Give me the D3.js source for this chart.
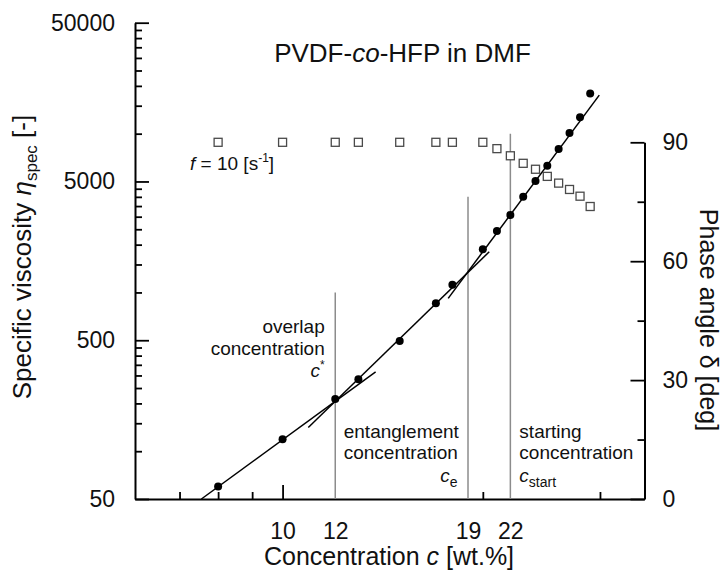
<!DOCTYPE html>
<html>
<head>
<meta charset="utf-8">
<script src="https://cdn.jsdelivr.net/npm/d3@7"></script>
<style>
  body { margin: 0; background: #fff; }
  svg { display: block; font-family: "Liberation Sans", Arial, sans-serif; }
</style>
</head>
<body>
<svg id="chart"></svg>
<script>
// concentration c [wt.%] of each measured solution
const concentration = [8, 10, 12, 13, 15, 17, 18, 20, 21, 22, 23, 24, 25, 26, 27, 28, 29];
// specific viscosity (filled circles, left log axis)
const etaSpec = [60, 119, 213, 284, 494, 854, 1120, 1870, 2440, 3070, 4010, 5030, 6280, 8000, 10100, 12700, 17900];
// phase angle at f = 10 1/s (open squares, right axis)
const phaseAngle = [90, 90, 90, 90, 90, 90, 90, 90, 88.4, 86.6, 84.7, 83.2, 81.4, 79.7, 78.1, 76.4, 73.8];

// straight fit lines on log-log axes, read as end points
const fitDilute = { c: [7.55, 13.8], eta: [50, 316] };
const fitSemi = { c: [10.93, 20.45], eta: [141, 1804] };
const fitEntangled = { c: [17.74, 29.93], eta: [918, 17500] };

// characteristic concentrations (grey lines) and how high the lines reach
const markerConc = [12, 19, 22];
const markerTop = [1000, 4000, 10000];

// ticks
const etaTicks = [50, 500, 5000, 50000];
const etaMinor = [50, 500, 5000].flatMap(b => [2, 3, 4, 5, 6, 7, 8, 9].map(k => b * k));
const cLabels = [10, 12, 19, 22];
const cMajor = [10];
const cMinor = [7, 8, 9, 20, 30];
const phaseTicks = [0, 30, 60, 90];
const phaseMinor = [15, 45, 75];

const W = 722, H = 571;
const svg = d3.select("#chart").attr("width", W).attr("height", H);

const x = d3.scaleLog().domain([6, 35]).range([135, 644.5]);
const y = d3.scaleLog().domain([50, 50000]).range([499, 22.7]);
const yPhase = d3.scaleLinear().domain([0, 90]).range([499, 142.3]);

const tickFont = 23, titleFont = 26, noteFont = 19;

function styleAxis(g) {
  g.selectAll(".domain").attr("stroke", "#000").attr("stroke-width", 2);
  g.selectAll(".tick line").attr("stroke", "#000").attr("stroke-width", 1.8);
  g.selectAll(".tick text").attr("font-size", tickFont).attr("fill", "#111")
    .attr("font-family", "Liberation Sans, Arial, sans-serif");
}

// left axis
svg.append("g").attr("transform", `translate(${x.range()[0]},0)`)
  .call(d3.axisLeft(y).tickValues(etaTicks).tickFormat(d3.format("d"))
    .tickSize(-14).tickSizeOuter(0).tickPadding(20))
  .call(styleAxis);
svg.append("g").attr("transform", `translate(${x.range()[0]},0)`)
  .call(d3.axisLeft(y).tickValues(etaMinor).tickFormat("").tickSize(-7).tickSizeOuter(0))
  .call(g => g.select(".domain").remove())
  .call(styleAxis);

// bottom axis
svg.append("g").attr("transform", `translate(0,${y.range()[0]})`)
  .call(d3.axisBottom(x).tickValues(cMajor).tickFormat("").tickSize(-14).tickSizeOuter(0))
  .call(styleAxis);
svg.append("g").attr("transform", `translate(0,${y.range()[0]})`)
  .call(d3.axisBottom(x).tickValues(cMinor).tickFormat("").tickSize(-7).tickSizeOuter(0))
  .call(g => g.select(".domain").remove())
  .call(styleAxis);
svg.append("g").attr("transform", `translate(0,${y.range()[0]})`)
  .call(d3.axisBottom(x).tickValues(cLabels).tickFormat(d3.format("d")).tickSize(0).tickPadding(24))
  .call(g => g.select(".domain").remove())
  .call(g => g.selectAll(".tick line").remove())
  .call(styleAxis);

// right axis
svg.append("g").attr("transform", `translate(${x.range()[1]},0)`)
  .call(d3.axisRight(yPhase).tickValues(phaseTicks).tickSize(-14).tickSizeOuter(0).tickPadding(18))
  .call(styleAxis);
svg.append("g").attr("transform", `translate(${x.range()[1]},0)`)
  .call(d3.axisRight(yPhase).tickValues(phaseMinor).tickFormat("").tickSize(-7).tickSizeOuter(0))
  .call(g => g.select(".domain").remove())
  .call(styleAxis);

// grey marker lines
svg.append("g").selectAll("line").data(markerConc).join("line")
  .attr("x1", d => x(d)).attr("x2", d => x(d))
  .attr("y1", y(50)).attr("y2", (d, i) => y(markerTop[i]))
  .attr("stroke", "#8c8c8c").attr("stroke-width", 1.5);

// phase angle squares
const sq = 8;
svg.append("g").selectAll("rect").data(concentration).join("rect")
  .attr("x", d => x(d) - sq / 2)
  .attr("y", (d, i) => yPhase(phaseAngle[i]) - sq / 2)
  .attr("width", sq).attr("height", sq)
  .attr("fill", "#fff").attr("stroke", "#4a4a4a").attr("stroke-width", 1.3);

// fit lines
const fitLine = d3.line().x(d => x(d[0])).y(d => y(d[1]));
[fitDilute, fitSemi, fitEntangled].forEach(f => {
  svg.append("path")
    .attr("d", fitLine(f.c.map((c, i) => [c, f.eta[i]])))
    .attr("fill", "none").attr("stroke", "#000").attr("stroke-width", 1.5);
});

// viscosity circles
svg.append("g").selectAll("circle").data(concentration).join("circle")
  .attr("cx", d => x(d))
  .attr("cy", (d, i) => y(etaSpec[i]))
  .attr("r", 4).attr("fill", "#000");

// title
const title = svg.append("text").attr("x", 402.5).attr("y", 62)
  .attr("text-anchor", "middle").attr("font-size", titleFont).attr("fill", "#111");
title.append("tspan").text("PVDF-");
title.append("tspan").attr("font-style", "italic").text("co");
title.append("tspan").text("-HFP in DMF");

// axis titles
const xt = svg.append("text").attr("x", 389).attr("y", 565)
  .attr("text-anchor", "middle").attr("font-size", 25).attr("fill", "#111");
xt.append("tspan").text("Concentration ");
xt.append("tspan").attr("font-style", "italic").text("c");
xt.append("tspan").text(" [wt.%]");

const yt = svg.append("text").attr("transform", "translate(31,257) rotate(-90)")
  .attr("text-anchor", "middle").attr("font-size", titleFont).attr("fill", "#111");
yt.append("tspan").text("Specific viscosity ");
yt.append("tspan").attr("font-style", "italic").text("η");
yt.append("tspan").attr("font-size", 17).attr("dy", 6).text("spec");
yt.append("tspan").attr("dy", -6).text(" [-]");

svg.append("text").attr("transform", "translate(700,320) rotate(90)")
  .attr("text-anchor", "middle").attr("font-size", 25).attr("fill", "#111")
  .text("Phase angle δ [deg]");

// annotations
const note = (tx, ty, anchor) => svg.append("text").attr("x", tx).attr("y", ty)
  .attr("text-anchor", anchor).attr("font-size", noteFont).attr("fill", "#111");

note(x(12) - 10.5, 333, "end").text("overlap");
note(x(12) - 10.5, 354.5, "end").text("concentration");
const cStar = note(x(12) - 10.5, 377, "end");
cStar.append("tspan").attr("font-style", "italic").text("c");
cStar.append("tspan").attr("font-size", 12).attr("dy", -8).text("*");

note(x(12) + 8.5, 437.5, "start").text("entanglement");
note(x(12) + 8.5, 459, "start").text("concentration");
const cE = note(x(19) - 10.5, 482, "end");
cE.append("tspan").attr("font-style", "italic").text("c");
cE.append("tspan").attr("font-size", 14).attr("dy", 5).text("e");

note(x(22) + 9, 437.5, "start").text("starting");
note(x(22) + 9, 459, "start").text("concentration");
const cS = note(x(22) + 9, 482, "start");
cS.append("tspan").attr("font-style", "italic").text("c");
cS.append("tspan").attr("font-size", 14).attr("dy", 5).text("start");

const fl = note(190, 170, "start");
fl.append("tspan").attr("font-style", "italic").text("f");
fl.append("tspan").text(" = 10 [s");
fl.append("tspan").attr("font-size", 12).attr("dy", -8).text("-1");
fl.append("tspan").attr("dy", 8).text("]");
</script>
</body>
</html>
